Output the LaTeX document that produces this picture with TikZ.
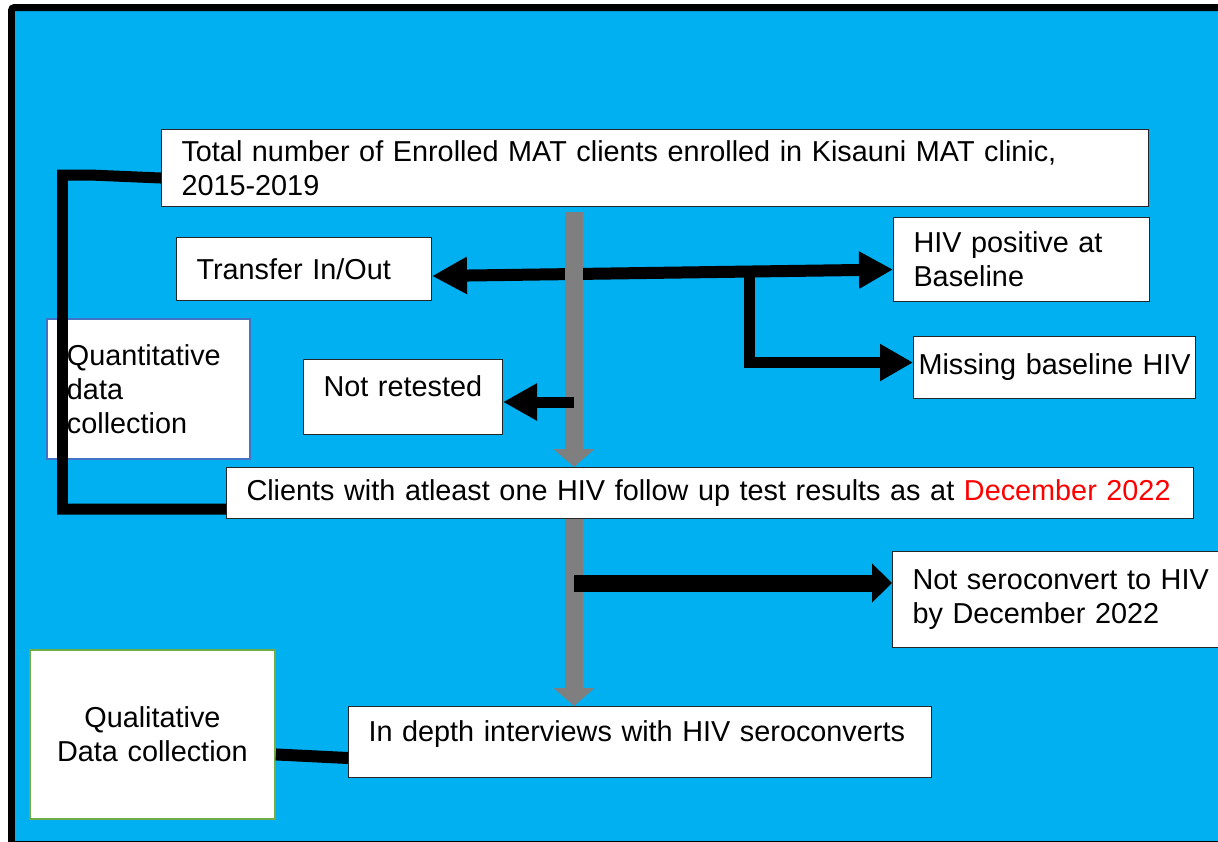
\documentclass[tikz,border=0pt]{standalone}
\usepackage{fontspec}
\setmainfont{Liberation Sans}
\usetikzlibrary{arrows.meta}

\definecolor{skyfill}{HTML}{00B0F0}
\definecolor{spinegray}{HTML}{7F7F7F}
\definecolor{quantblue}{HTML}{4472C4}
\definecolor{qualgreen}{HTML}{70AD47}

\tikzset{
	flowbox/.style={draw=black!85, line width=0.6pt, fill=white, anchor=north west,
		inner xsep=0.4cm, inner ysep=0pt, align=left,
		font=\fontsize{16.4pt}{19.4pt}\selectfont},
	flowarrow/.style={draw=black, line width=0.24cm, -{Triangle[length=0.68cm, width=0.7cm]}},
	twoway/.style={draw=black, line width=0.24cm,
		{Triangle[length=0.7cm, width=0.7cm]}-{Triangle[length=0.68cm, width=0.7cm]}},
	grayarrow/.style={draw=spinegray, line width=0.36cm, -{Triangle[length=0.36cm, width=0.8cm]}},
	bracket/.style={draw=black, line width=0.22cm}
}

\begin{document}
\begin{tikzpicture}[x=0.02cm, y=-0.02cm]
		\clip (0, 0) rectangle (1218, 842);
		% frame
		\draw[line width=0.14cm, fill=skyfill, rounded corners=0.06cm] (11.5, 7.5) rectangle (1235, 844.5);
		% boxes
		\node[flowbox, minimum width=19.74cm, minimum height=1.54cm, text width=18.94cm] (total) at (161, 129)
			{Total number of Enrolled MAT clients enrolled in Kisauni MAT clinic,\\2015-2019};
		\node[flowbox, minimum width=5.1cm, minimum height=1.26cm, text width=4.3cm] (transfer) at (176, 237)
			{Transfer In/Out};
		\node[flowbox, minimum width=5.12cm, minimum height=1.68cm, text width=4.32cm] (hivpos) at (893, 217)
			{HIV positive at\\Baseline};
		\node[flowbox, inner xsep=0.1cm, minimum width=5.64cm, minimum height=1.24cm, text width=5.44cm] (missing) at (913, 336)
			{\mbox{Missing baseline HIV}};
		\node[flowbox, draw=quantblue, line width=1.1pt, minimum width=4.06cm, minimum height=2.8cm, text width=3.26cm] (quant) at (46, 318)
			{Quantitative\\data\\collection};
		\node[flowbox, minimum width=3.98cm, minimum height=1.5cm, text width=3.18cm, text depth=12pt] (notretested) at (303, 359)
			{Not retested};
		\node[flowbox, minimum width=19.34cm, minimum height=1.02cm, text width=18.54cm] (clients) at (226, 467)
			{\mbox{Clients with atleast one HIV follow up test results as at \textcolor{red}{December 2022}}};
		\node[flowbox, minimum width=6.96cm, minimum height=1.92cm, text width=6.16cm] (notsero) at (892, 551)
			{Not seroconvert to HIV\\by December 2022};
		\node[flowbox, draw=qualgreen, line width=1.1pt, align=center, minimum width=4.9cm, minimum height=3.38cm, text width=4.1cm] (qual) at (29, 649)
			{Qualitative\\Data collection};
		\node[flowbox, minimum width=11.66cm, minimum height=1.42cm, text width=10.86cm, text depth=12pt] (indepth) at (348, 706)
			{In depth interviews with HIV seroconverts};
		% branches off the main line
		\coordinate (spine) at (574, 0);
		\coordinate (fork) at (749, 271);
		\draw[twoway] ([yshift=-0.14cm]transfer.east) -- ([yshift=-0.2cm]hivpos.west);
		\draw[flowarrow, line width=0.22cm, -{Triangle[length=0.66cm, width=0.7cm]}] (fork) |- ([yshift=0.1cm]missing.west);
		\draw[grayarrow, shorten <=0.1cm] (total.south -| spine) -- (clients.north -| spine);
		\draw[grayarrow] (clients.south -| spine) -- (indepth.north -| spine);
		\coordinate (nrfrom) at (574, 402);
		\draw[flowarrow, line width=0.22cm] (nrfrom) -- (nrfrom -| notretested.east);
		\coordinate (nsfrom) at (574, 583);
		\draw[flowarrow, line width=0.34cm, -{Triangle[length=0.4cm, width=0.76cm]}] (nsfrom) -- (nsfrom -| notsero.west);
		% data collection links
		\coordinate (brtop) at (62.5, 175);
		\coordinate (brbottom) at (62.5, 509);
		\draw[bracket] ([yshift=-0.2cm]total.west) -- (90, 175) -- (brtop) -- (brbottom) -- (brbottom -| clients.west);
		\draw[bracket, line width=0.24cm] ([yshift=-0.4cm]qual.east) -- ([yshift=-0.32cm]indepth.west);
	\end{tikzpicture}
\end{document}
